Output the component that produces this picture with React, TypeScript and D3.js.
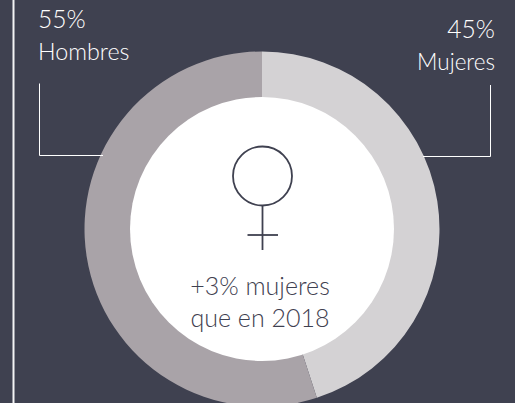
import React from "react";
import * as d3 from "d3";

const categories = ["Mujeres", "Hombres"];
const shares = [45, 55];
const percentLabels = ["45%", "55%"];
const centerLines = ["+3% mujeres", "que en 2018"];
const sliceColors = ["#d4d2d4", "#a9a3a8"];

const W = 515, H = 403, cx = 262, cy = 229, ro = 177.5, ri = 132;
const BG = "#3f4150";
const FONT = "Lato, 'Noto Sans', sans-serif";

export default function App() {
  const pie = d3.pie<number>().sort(null).value((d) => d);
  const arc = d3.arc<d3.PieArcDatum<number>>().innerRadius(ri - 2).outerRadius(ro);
  const arcs = pie(shares);
  return (
    <svg width={W} height={H} viewBox={`0 0 ${W} ${H}`} style={{ position: "absolute", left: 0, top: 0, fontFamily: FONT }}>
      <rect width={W} height={H} fill={BG} />
      <line x1={13.5} x2={13.5} y1={0} y2={H} stroke="#f4f4f5" strokeWidth={2} />
      <g transform={`translate(${cx},${cy})`}>
        {arcs.map((a, i) => <path key={categories[i]} d={arc(a) ?? ""} fill={sliceColors[i]} />)}
        <circle r={ri} fill="#ffffff" />
      </g>
      <path d="M39.5 83.5V155.5H103" fill="none" stroke="#ffffff" strokeWidth={1} />
      <path d="M490.5 85V156.5H423" fill="none" stroke="#ffffff" strokeWidth={1} />
      <g fill="#ffffff" fontWeight={300}>
        <text x={38} y={28} fontSize={24.6}>{percentLabels[1]}</text>
        <text x={38} y={60} fontSize={23.3}>{categories[1]}</text>
        <text x={495} y={38} fontSize={24.6} textAnchor="end">{percentLabels[0]}</text>
        <text x={495} y={70} fontSize={22.5} textAnchor="end">{categories[0]}</text>
      </g>
      <g fill="none" stroke={BG} strokeWidth={1.8}>
        <circle cx={262.5} cy={176} r={29.5} />
        <line x1={262.5} x2={262.5} y1={205} y2={250} />
        <line x1={247.5} x2={278} y1={235} y2={235} />
      </g>
      <g fill={BG} fontSize={25} fontWeight={300} textAnchor="middle">
        <text x={260} y={294.5}>{centerLines[0]}</text>
        <text x={260} y={326.5}>{centerLines[1]}</text>
      </g>
    </svg>
  );
}
